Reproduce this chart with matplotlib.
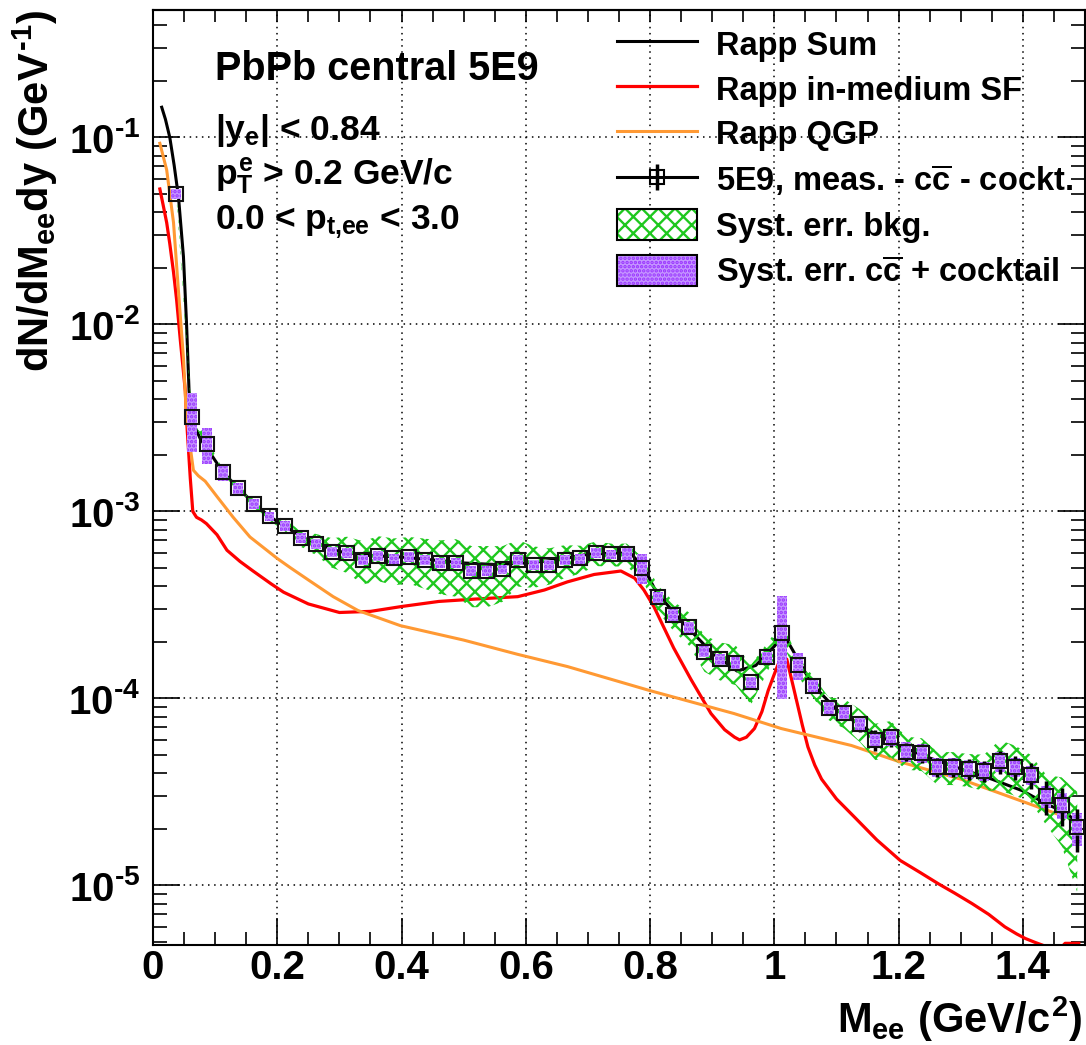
import matplotlib
matplotlib.use('Agg')
import matplotlib.pyplot as plt
from matplotlib import ticker
from matplotlib.lines import Line2D
from matplotlib.patches import Rectangle
from matplotlib.legend_handler import HandlerTuple
import numpy as np

plt.rcParams['font.family'] = ['Liberation Sans', 'DejaVu Sans']
plt.rcParams['font.weight'] = 'bold'
plt.rcParams['mathtext.fontset'] = 'custom'
plt.rcParams['mathtext.rm'] = 'Liberation Sans:bold'
plt.rcParams['mathtext.it'] = 'Liberation Sans:bold'
plt.rcParams['mathtext.bf'] = 'Liberation Sans:bold'
plt.rcParams['hatch.linewidth'] = 1.7

# measured spectrum (bin centres, dN/dMdy)
mass = [0.0375, 0.0625, 0.0875, 0.1125, 0.1375, 0.1625, 0.1875, 0.2125, 0.2375, 0.2625,
        0.2875, 0.3125, 0.3375, 0.3625, 0.3875, 0.4125, 0.4375, 0.4625, 0.4875, 0.5125,
        0.5375, 0.5625, 0.5875, 0.6125, 0.6375, 0.6625, 0.6875, 0.7125, 0.7375, 0.7625,
        0.7875, 0.8125, 0.8375, 0.8625, 0.8875, 0.9125, 0.9375, 0.9625, 0.9875, 1.0125,
        1.0375, 1.0625, 1.0875, 1.1125, 1.1375, 1.1625, 1.1875, 1.2125, 1.2375, 1.2625,
        1.2875, 1.3125, 1.3375, 1.3625, 1.3875, 1.4125, 1.4375, 1.4625, 1.4875]
yields = [5.0e-2, 3.2e-3, 2.3e-3, 1.62e-3, 1.33e-3, 1.10e-3, 9.4e-4, 8.4e-4, 7.2e-4, 6.7e-4,
          6.1e-4, 6.0e-4, 5.5e-4, 5.8e-4, 5.6e-4, 5.7e-4, 5.5e-4, 5.3e-4, 5.3e-4, 4.8e-4,
          4.8e-4, 4.9e-4, 5.5e-4, 5.2e-4, 5.2e-4, 5.5e-4, 5.6e-4, 6.0e-4, 5.9e-4, 5.9e-4,
          5.0e-4, 3.47e-4, 2.8e-4, 2.4e-4, 1.78e-4, 1.62e-4, 1.55e-4, 1.22e-4, 1.66e-4, 2.25e-4,
          1.5e-4, 1.16e-4, 8.9e-5, 8.4e-5, 7.3e-5, 6.0e-5, 6.2e-5, 5.2e-5, 5.1e-5, 4.3e-5,
          4.3e-5, 4.2e-5, 4.1e-5, 4.6e-5, 4.3e-5, 3.9e-5, 3.0e-5, 2.7e-5, 2.04e-5]
# relative errors
stat_rel = [0.03, 0.03, 0.03, 0.03, 0.03, 0.03, 0.03, 0.03, 0.03, 0.03,
            0.03, 0.03, 0.03, 0.03, 0.03, 0.03, 0.03, 0.03, 0.03, 0.03,
            0.03, 0.03, 0.03, 0.03, 0.03, 0.03, 0.03, 0.03, 0.03, 0.03,
            0.03, 0.04, 0.04, 0.05, 0.05, 0.06, 0.06, 0.07, 0.06, 0.05,
            0.06, 0.07, 0.08, 0.08, 0.09, 0.13, 0.11, 0.11, 0.12, 0.12,
            0.12, 0.13, 0.13, 0.14, 0.15, 0.16, 0.21, 0.23, 0.26]
bkg_rel = [0.04, 0.04, 0.04, 0.04, 0.04, 0.05, 0.05, 0.07, 0.10, 0.13,
           0.18, 0.22, 0.26, 0.27, 0.28, 0.28, 0.30, 0.32, 0.34, 0.36,
           0.36, 0.33, 0.28, 0.25, 0.22, 0.20, 0.17, 0.15, 0.14, 0.14,
           0.14, 0.16, 0.18, 0.20, 0.22, 0.23, 0.24, 0.24, 0.18, 0.12,
           0.12, 0.13, 0.14, 0.18, 0.20, 0.22, 0.22, 0.20, 0.20, 0.20,
           0.20, 0.20, 0.22, 0.30, 0.30, 0.28, 0.30, 0.40, 0.55]
cocktail_rel = [0.06, 0.35, 0.22, 0.10, 0.07, 0.06, 0.06, 0.06, 0.06, 0.06,
                0.06, 0.06, 0.06, 0.06, 0.06, 0.06, 0.06, 0.06, 0.06, 0.06,
                0.06, 0.06, 0.06, 0.06, 0.06, 0.06, 0.06, 0.06, 0.06, 0.08,
                0.18, 0.07, 0.07, 0.07, 0.07, 0.07, 0.07, 0.07, 0.07, 0.56,
                0.16, 0.08, 0.08, 0.08, 0.09, 0.10, 0.10, 0.12, 0.12, 0.12,
                0.12, 0.12, 0.12, 0.12, 0.12, 0.12, 0.14, 0.16, 0.20]

# Rapp model curves
sum_mass = [0.014, 0.02, 0.027, 0.034, 0.041, 0.049, 0.054, 0.058, 0.0625, 0.068,
            0.076, 0.09, 0.1125, 0.1375, 0.1625, 0.1875, 0.2125, 0.25, 0.3, 0.35,
            0.4, 0.45, 0.5, 0.55, 0.6, 0.65, 0.7, 0.75, 0.77, 0.79,
            0.81, 0.85, 0.9, 0.94, 0.97, 1.0, 1.015, 1.03, 1.06, 1.1,
            1.15, 1.2, 1.25, 1.3, 1.35, 1.4, 1.44, 1.47, 1.49]
sum_val = [0.145, 0.125, 0.1, 0.071, 0.048, 0.023, 0.01, 0.0044, 0.0033, 0.0028,
           0.00245, 0.0021, 0.00162, 0.00133, 0.0011, 0.00094, 0.00083, 0.0007, 0.00061, 0.00058,
           0.00057, 0.00055, 0.00053, 0.00052, 0.00053, 0.00055, 0.00059, 0.0006, 0.00059, 0.0005,
           0.00037, 0.00026, 0.000175, 0.00014, 0.00015, 0.00019, 0.00022, 0.00018, 0.00012, 8.7e-05,
           6.8e-05, 5.6e-05, 4.8e-05, 4.2e-05, 3.7e-05, 3.2e-05, 2.7e-05, 2.45e-05, 2.1e-05]

sf_mass = [0.011, 0.016, 0.022, 0.027, 0.033, 0.038, 0.044, 0.052, 0.054, 0.06,
           0.064, 0.07, 0.078, 0.086, 0.103, 0.119, 0.14, 0.161, 0.19, 0.21,
           0.25, 0.3, 0.35, 0.4, 0.46, 0.52, 0.587, 0.63, 0.667, 0.71,
           0.753, 0.775, 0.79, 0.806, 0.838, 0.866, 0.898, 0.92, 0.936, 0.944,
           0.955, 0.968, 0.98, 0.99, 1.0, 1.008, 1.014, 1.02, 1.032, 1.045,
           1.054, 1.065, 1.076, 1.1, 1.13, 1.165, 1.2025, 1.235, 1.264, 1.29,
           1.318, 1.345, 1.371, 1.39, 1.404, 1.42, 1.431, 1.445, 1.46, 1.468, 1.49]
sf_val = [0.053, 0.044, 0.035, 0.027, 0.019, 0.0135, 0.0082, 0.0044, 0.0031, 0.0015,
          0.001, 0.00093, 0.0009, 0.00086, 0.00075, 0.00062, 0.00054, 0.00048, 0.00041, 0.00037,
          0.00032, 0.000288, 0.000292, 0.00031, 0.00033, 0.00034, 0.00035, 0.00038, 0.00042, 0.00046,
          0.00048, 0.00044, 0.00038, 0.00031, 0.000186, 0.000126, 8.3e-05, 6.8e-05, 6.2e-05, 6.0e-05,
          6.2e-05, 6.9e-05, 8.5e-05, 0.00011, 0.000135, 0.000158, 0.000166, 0.000162, 0.00011, 7.2e-05,
          5.5e-05, 4.4e-05, 3.7e-05, 2.9e-05, 2.3e-05, 1.75e-05, 1.36e-05, 1.17e-05, 1.02e-05, 9.1e-06,
          8.0e-06, 7.0e-06, 6.0e-06, 5.5e-06, 5.2e-06, 4.95e-06, 4.8e-06, 4.6e-06, 4.6e-06, 4.9e-06, 4.9e-06]

qgp_mass = [0.011, 0.022, 0.033, 0.041, 0.049, 0.053, 0.06, 0.065, 0.073, 0.084,
            0.103, 0.129, 0.156, 0.2, 0.221, 0.25, 0.29, 0.33, 0.398, 0.5,
            0.587, 0.667, 0.8, 0.935, 1.011, 1.124, 1.2, 1.3, 1.442, 1.46]
qgp_val = [0.093, 0.067, 0.035, 0.015, 0.0066, 0.0036, 0.0022, 0.00166, 0.00155, 0.00145,
           0.0012, 0.00093, 0.00073, 0.00056, 0.0005, 0.00043, 0.00035, 0.000295, 0.000245, 0.000205,
           0.000172, 0.000148, 0.00011, 8.3e-05, 6.9e-05, 5.6e-05, 4.6e-05, 3.7e-05, 2.5e-05, 2.38e-05]

green = '#1ec81e'
purple = '#9933ff'
orange = '#ff9933'
minus = '\u00ad'

x = np.array(mass)
y = np.array(yields)

fig = plt.figure(figsize=(10.86, 10.45), dpi=100)
ax = fig.add_axes([0.1409, 0.0957, 0.8582, 0.8947])
ax.set_yscale('log')
ax.set_xlim(0, 1.5)
ax.set_ylim(4.8e-6, 0.48)

ax.grid(True, which='major', color='k', linestyle=(0, (1, 3)), linewidth=1.1)
ax.set_axisbelow(True)

ax.plot(sum_mass, sum_val, color='k', lw=2.2, zorder=2)
ax.plot(sf_mass, sf_val, color='red', lw=2.3, zorder=2)
ax.plot(qgp_mass, qgp_val, color=orange, lw=2.2, zorder=2)

b = np.array(bkg_rel)
ax.fill_between(x, y * (1 - b), y * (1 + b), facecolor='none', edgecolor=green,
                hatch='xx', lw=0, zorder=3)

c = np.array(cocktail_rel)
ax.bar(x, 2 * c * y, bottom=y * (1 - c), width=0.016, color='#c596ff',
       edgecolor=purple, hatch='....', lw=0, zorder=4)

# statistical errors, drawn only outside the marker box (ROOT style)
s = np.array(stat_rel)
half = 7.5  # marker half size in pixels
disp = ax.transData.transform(np.column_stack([x, y]))
inv = ax.transData.inverted()
m_top = inv.transform(disp + [0, half])[:, 1]
m_bot = inv.transform(disp - [0, half])[:, 1]
ax.vlines(x, m_top, np.maximum(m_top, y * (1 + s)), color='k', lw=2.5, zorder=5)
ax.vlines(x, np.minimum(m_bot, y * (1 - s)), m_bot, color='k', lw=2.5, zorder=5)
ax.plot(x, y, ls='none', marker='s', mfc='none', mec='#111111', ms=10.5, mew=1.5, zorder=6)

# axes styling
ax.xaxis.set_major_locator(ticker.MultipleLocator(0.2))
ax.xaxis.set_minor_locator(ticker.MultipleLocator(0.05))
ax.xaxis.set_major_formatter(ticker.FuncFormatter(lambda v, p: '%g' % round(v, 2)))
ax.yaxis.set_major_locator(ticker.LogLocator(base=10, numticks=10))
ax.yaxis.set_minor_locator(ticker.LogLocator(base=10, subs=np.arange(2, 10), numticks=20))
ax.yaxis.set_major_formatter(ticker.FuncFormatter(
    lambda v, p: r'$10^{%s%d}$' % (minus, -round(np.log10(v)))))
ax.yaxis.set_minor_formatter(ticker.NullFormatter())

ax.tick_params(axis='x', which='major', direction='in', length=19.5, width=1.2,
               labelsize=29, pad=3, top=False)
ax.tick_params(axis='x', which='minor', direction='in', length=9.5, width=1.2, top=False)
ax.tick_params(axis='y', which='major', direction='in', length=19.5, width=1.2,
               labelsize=29, pad=9, right=True)
ax.tick_params(axis='y', which='minor', direction='in', length=10, width=1.2, right=True)
top = ax.secondary_xaxis('top')
top.xaxis.set_major_locator(ticker.MultipleLocator(0.05))
top.tick_params(direction='in', length=8.6, width=1.2, labeltop=False)
for sp in list(ax.spines.values()) + list(top.spines.values()):
    sp.set_linewidth(1.5)

ax.set_xlabel(r'$M_{ee}\ (GeV/c^{2})$', fontsize=30, loc='right')
ax.xaxis.set_label_coords(0.997, -0.053)
ax.set_ylabel(r'$dN/dM_{ee}dy\ (GeV^{%s1})$' % minus, fontsize=30, loc='top')
ax.yaxis.set_label_coords(-0.1, 1.0)

# labels
ax.text(0.0665, 0.925, 'PbPb central 5E9', transform=ax.transAxes, fontsize=28.5,
        fontweight='bold', va='baseline')
ax.text(0.0665, 0.861, r'|y$_{e}$| < 0.84', transform=ax.transAxes, fontsize=25.5,
        fontweight='bold', va='baseline')
ax.text(0.0665, 0.813, r'$p_{T}^{e}$ > 0.2 GeV/c', transform=ax.transAxes, fontsize=25.5,
        fontweight='bold', va='baseline')
ax.text(0.0665, 0.765, r'0.0 < $p_{t{,}ee}$ < 3.0', transform=ax.transAxes, fontsize=25.5,
        fontweight='bold', va='baseline')

# legend
h_sum = Line2D([], [], color='k', lw=2.2)
h_sf = Line2D([], [], color='red', lw=2.3)
h_qgp = Line2D([], [], color=orange, lw=2.2)
h_data = (Line2D([], [], color='k', lw=2.2, marker='s', mfc='none', mec='k', ms=10, mew=1.5),
          Line2D([], [], ls='none', marker='|', color='k', ms=19, mew=2.5))
h_bkg = (Rectangle((0, 0), 1, 1, facecolor='white', edgecolor=green, hatch='xx', lw=0),
         Rectangle((0, 0), 1, 1, facecolor='none', edgecolor='k', lw=1.5))
h_cc = (Rectangle((0, 0), 1, 1, facecolor='#c596ff', edgecolor=purple, hatch='....', lw=0),
        Rectangle((0, 0), 1, 1, facecolor='none', edgecolor='k', lw=1.5))
labels = ['Rapp Sum', 'Rapp in-medium SF', 'Rapp QGP',
          r'5E9, meas. - c$\overline{c}$ - cockt.', 'Syst. err. bkg.',
          r'Syst. err. c$\overline{c}$ + cocktail']
leg = ax.legend([h_sum, h_sf, h_qgp, h_data, h_bkg, h_cc], labels,
                handler_map={tuple: HandlerTuple(ndivide=1, pad=0)},
                loc='upper left', bbox_to_anchor=(0.479, 1.0), frameon=False,
                fontsize=23.5, handlelength=2.45, handleheight=1.1, handletextpad=0.58,
                labelspacing=0.34, borderaxespad=0.15)

fig.savefig('out.png', dpi=100)
